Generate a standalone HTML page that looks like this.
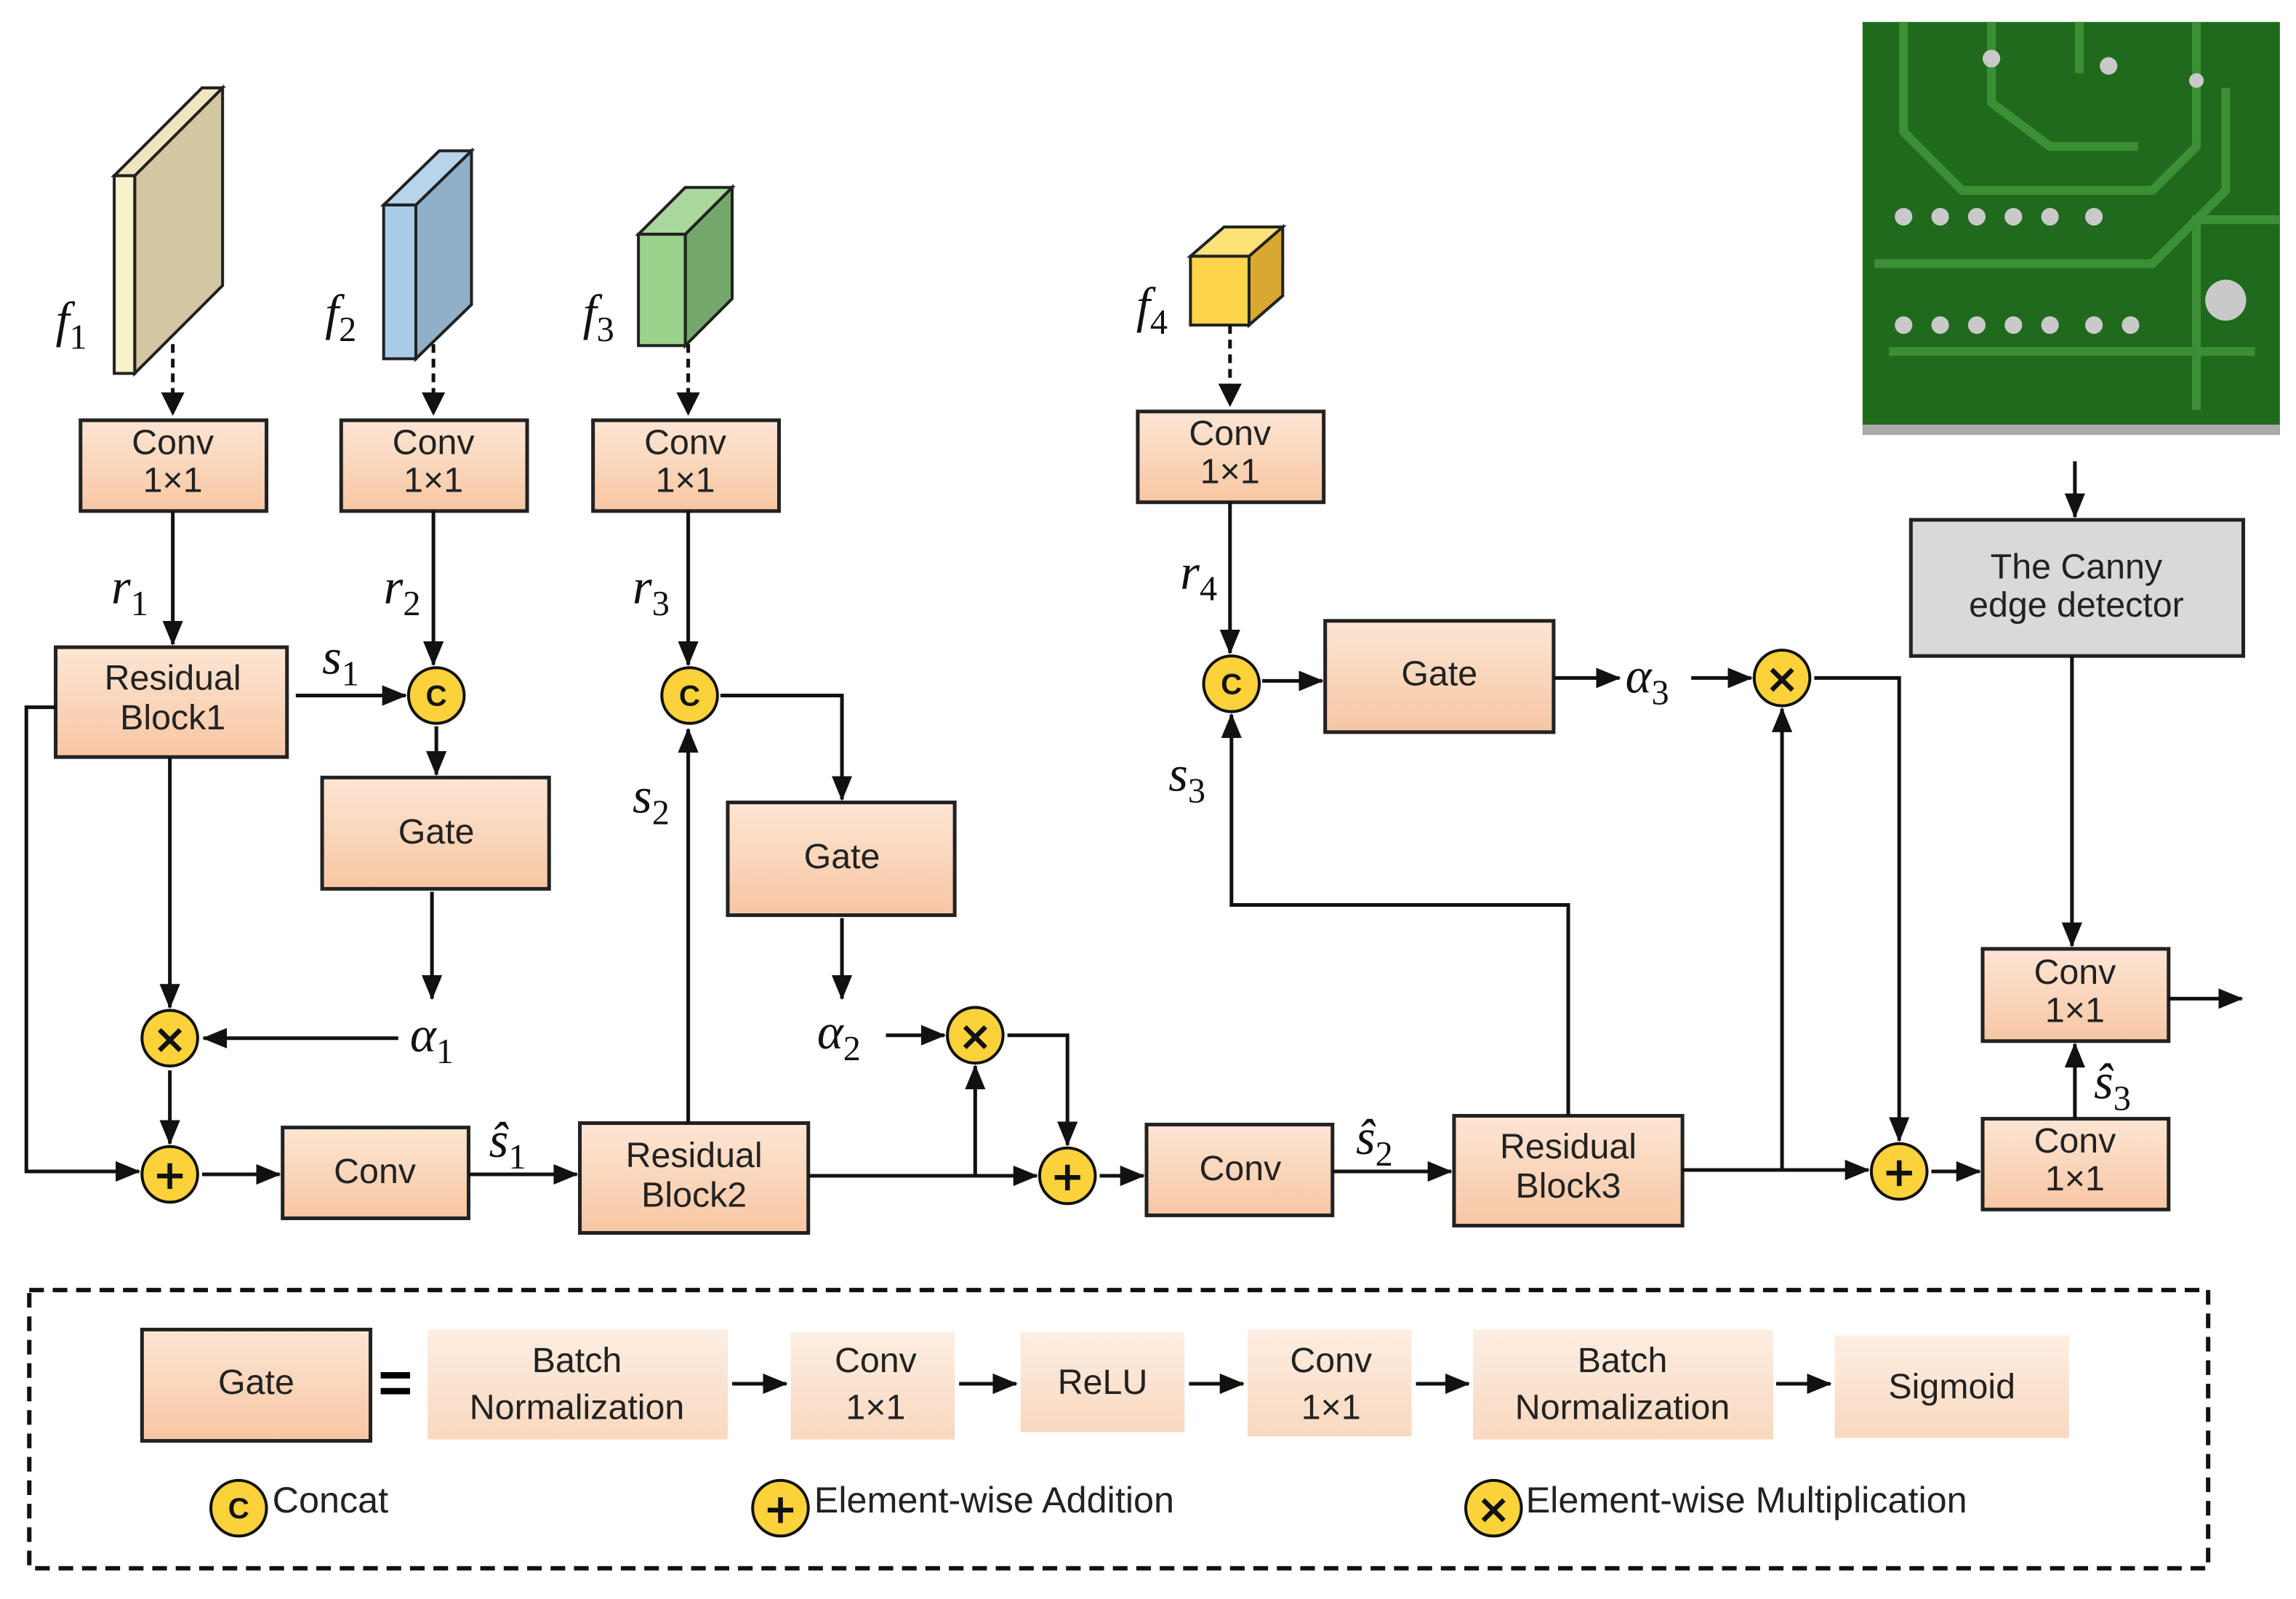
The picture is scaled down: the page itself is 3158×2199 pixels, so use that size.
<!DOCTYPE html>
<html><head><meta charset="utf-8"><style>
html,body{margin:0;padding:0;background:#fff}
svg{display:block}
.bx{fill:url(#pg);stroke:#222;stroke-width:2.5}
.t{font-family:"Liberation Sans",sans-serif;font-size:24px;fill:#222;text-anchor:middle}
.ls{font-family:"Liberation Sans",sans-serif;font-size:25px;fill:#222}
.m{font-family:"Liberation Serif",serif;font-style:italic;font-size:34px;fill:#111}
.ar{stroke:#111;stroke-width:2.5;fill:none;marker-end:url(#ah)}
.cir{fill:#fbd23a;stroke:#111;stroke-width:2}
.ct{font-family:"Liberation Sans",sans-serif;font-weight:bold;font-size:20px;text-anchor:middle;fill:#111}
.cs{font-family:"DejaVu Sans",sans-serif;font-weight:bold;font-size:28px;text-anchor:middle;fill:#111}
.lb{fill:url(#pl)}
</style></head><body>
<svg width="3158" height="2199" viewBox="0 0 1568 1092" preserveAspectRatio="none" xmlns="http://www.w3.org/2000/svg">
<defs>
<linearGradient id="pg" x1="0" y1="0" x2="0" y2="1"><stop offset="0" stop-color="#fde6d4"/><stop offset="1" stop-color="#f7c6a3"/></linearGradient>
<linearGradient id="pl" x1="0" y1="0" x2="0" y2="1"><stop offset="0" stop-color="#fdeee2"/><stop offset="1" stop-color="#f9d8bf"/></linearGradient>
<marker id="ah" markerWidth="18" markerHeight="16" refX="16" refY="7" orient="auto" markerUnits="userSpaceOnUse"><path d="M0,0 L17,7 L0,14 z" fill="#111"/></marker>
</defs>
<!-- slabs -->
<polygon points="92,120 152,60 152,195 92,255" fill="#d3c6a2" stroke="#222" stroke-width="2"/>
<polygon points="78,120 138,60 152,60 92,120" fill="#efe6bf" stroke="#222" stroke-width="2"/>
<rect x="78" y="120" width="14" height="135" fill="#f8f1cc" stroke="#222" stroke-width="2"/>
<polygon points="284,140 322,103 322,208 284,245" fill="#8fb0c8" stroke="#222" stroke-width="2"/>
<polygon points="262,140 300,103 322,103 284,140" fill="#b8d4ea" stroke="#222" stroke-width="2"/>
<rect x="262" y="140" width="22" height="105" fill="#a9cbe8" stroke="#222" stroke-width="2"/>
<polygon points="468,160 500,128 500,204 468,236" fill="#74a86a" stroke="#222" stroke-width="2"/>
<polygon points="436,160 468,128 500,128 468,160" fill="#a9d89c" stroke="#222" stroke-width="2"/>
<rect x="436" y="160" width="32" height="76" fill="#9ad38c" stroke="#222" stroke-width="2"/>
<polygon points="853,175 876,155 876,202 853,222" fill="#d9a830" stroke="#222" stroke-width="2"/>
<polygon points="813,175 836,155 876,155 853,175" fill="#fde27a" stroke="#222" stroke-width="2"/>
<rect x="813" y="175" width="40" height="47" fill="#fcd54a" stroke="#222" stroke-width="2"/>
<text class="m" x="38" y="230">f<tspan font-size="24" font-style="normal" dy="8">1</tspan></text>
<text class="m" x="222" y="225">f<tspan font-size="24" font-style="normal" dy="8">2</tspan></text>
<text class="m" x="398" y="225">f<tspan font-size="24" font-style="normal" dy="8">3</tspan></text>
<text class="m" x="776" y="220">f<tspan font-size="24" font-style="normal" dy="8">4</tspan></text>
<g stroke="#111" stroke-width="2.5" stroke-dasharray="6,4" fill="none">
<line x1="118" y1="235" x2="118" y2="270"/><line x1="296" y1="235" x2="296" y2="270"/><line x1="470" y1="235" x2="470" y2="270"/><line x1="840" y1="222" x2="840" y2="264"/></g>
<g fill="#111"><path d="M110,268 L126,268 L118,284z"/><path d="M288,268 L304,268 L296,284z"/><path d="M462,268 L478,268 L470,284z"/><path d="M832,262 L848,262 L840,278z"/></g>
<!-- PCB -->
<rect x="1272" y="15" width="285" height="282" fill="#1f6a1c"/>
<g stroke="#3b8f34" stroke-width="6" fill="none">
<path d="M1300,15 V90 L1340,130 H1470 L1500,100 V15"/><path d="M1280,180 H1470 L1520,130 V60"/><path d="M1290,240 H1540"/><path d="M1360,15 V70 L1400,100 H1460"/><path d="M1420,15 V50"/><path d="M1557,150 H1500 V280"/></g>
<g fill="#c9c9c9"><circle cx="1300" cy="148" r="6"/><circle cx="1325" cy="148" r="6"/><circle cx="1350" cy="148" r="6"/><circle cx="1375" cy="148" r="6"/><circle cx="1400" cy="148" r="6"/><circle cx="1430" cy="148" r="6"/><circle cx="1300" cy="222" r="6"/><circle cx="1325" cy="222" r="6"/><circle cx="1350" cy="222" r="6"/><circle cx="1375" cy="222" r="6"/><circle cx="1400" cy="222" r="6"/><circle cx="1430" cy="222" r="6"/><circle cx="1455" cy="222" r="6"/><circle cx="1520" cy="205" r="14"/><circle cx="1360" cy="40" r="6"/><circle cx="1440" cy="45" r="6"/><circle cx="1500" cy="55" r="5"/></g>
<rect x="1272" y="290" width="285" height="7" fill="#aaa"/>
<!-- boxes -->
<rect class="bx" x="55" y="287" width="127" height="62"/><text class="t" x="118" y="310">Conv</text><text class="t" x="118" y="336">1×1</text>
<rect class="bx" x="233" y="287" width="127" height="62"/><text class="t" x="296" y="310">Conv</text><text class="t" x="296" y="336">1×1</text>
<rect class="bx" x="405" y="287" width="127" height="62"/><text class="t" x="468" y="310">Conv</text><text class="t" x="468" y="336">1×1</text>
<rect class="bx" x="777" y="281" width="127" height="62"/><text class="t" x="840" y="304">Conv</text><text class="t" x="840" y="330">1×1</text>
<rect class="bx" x="38" y="442" width="158" height="75"/><text class="t" x="118" y="471">Residual</text><text class="t" x="118" y="498">Block1</text>
<rect class="bx" x="220" y="531" width="155" height="76"/><text class="t" x="298" y="576">Gate</text>
<rect class="bx" x="497" y="548" width="155" height="77"/><text class="t" x="575" y="593">Gate</text>
<rect class="bx" x="905" y="424" width="156" height="76"/><text class="t" x="983" y="468">Gate</text>
<rect class="bx" x="193" y="770" width="127" height="62"/><text class="t" x="256" y="808">Conv</text>
<rect class="bx" x="396" y="767" width="156" height="75"/><text class="t" x="474" y="797">Residual</text><text class="t" x="474" y="824">Block2</text>
<rect class="bx" x="783" y="768" width="127" height="62"/><text class="t" x="847" y="806">Conv</text>
<rect class="bx" x="993" y="762" width="156" height="75"/><text class="t" x="1071" y="791">Residual</text><text class="t" x="1071" y="818">Block3</text>
<rect class="bx" x="1354" y="764" width="127" height="62"/><text class="t" x="1417" y="787">Conv</text><text class="t" x="1417" y="813">1×1</text>
<rect class="bx" x="1354" y="648" width="127" height="63"/><text class="t" x="1417" y="672">Conv</text><text class="t" x="1417" y="698">1×1</text>
<rect x="1305" y="355" width="227" height="93" fill="#d9d9d9" stroke="#222" stroke-width="2.5"/><text class="t" x="1418" y="395">The Canny</text><text class="t" x="1418" y="421">edge detector</text>
<!-- connectors -->
<line class="ar" x1="118" y1="349" x2="118" y2="440"/>
<line class="ar" x1="296" y1="349" x2="296" y2="454"/>
<line class="ar" x1="470" y1="349" x2="470" y2="454"/>
<line class="ar" x1="840" y1="343" x2="840" y2="446"/>
<line class="ar" x1="202" y1="475" x2="277" y2="475"/>
<line class="ar" x1="298" y1="496" x2="298" y2="529"/>
<line class="ar" x1="295" y1="609" x2="295" y2="682"/>
<line class="ar" x1="272" y1="709" x2="139" y2="709"/>
<line class="ar" x1="116" y1="517" x2="116" y2="688"/>
<line class="ar" x1="116" y1="731" x2="116" y2="781"/>
<polyline class="ar" points="38,483 18,483 18,800 95,800"/>
<line class="ar" x1="138" y1="802" x2="191" y2="802"/>
<line class="ar" x1="320" y1="802" x2="394" y2="802"/>
<line class="ar" x1="470" y1="767" x2="470" y2="498"/>
<polyline class="ar" points="492,475 575,475 575,546"/>
<line class="ar" x1="575" y1="627" x2="575" y2="682"/>
<line class="ar" x1="605" y1="707" x2="645" y2="707"/>
<line class="ar" x1="552" y1="803" x2="708" y2="803"/>
<line class="ar" x1="666" y1="803" x2="666" y2="728"/>
<polyline class="ar" points="688,707 729,707 729,782"/>
<line class="ar" x1="751" y1="803" x2="781" y2="803"/>
<line class="ar" x1="910" y1="800" x2="991" y2="800"/>
<polyline class="ar" points="1071,762 1071,618 841,618 841,488"/>
<line class="ar" x1="862" y1="465" x2="903" y2="465"/>
<line class="ar" x1="1061" y1="463" x2="1106" y2="463"/>
<line class="ar" x1="1155" y1="463" x2="1196" y2="463"/>
<line class="ar" x1="1149" y1="799" x2="1276" y2="799"/>
<line class="ar" x1="1217" y1="799" x2="1217" y2="484"/>
<polyline class="ar" points="1239,463 1297,463 1297,779"/>
<line class="ar" x1="1319" y1="800" x2="1352" y2="800"/>
<line class="ar" x1="1417" y1="764" x2="1417" y2="713"/>
<line class="ar" x1="1481" y1="682" x2="1531" y2="682"/>
<line class="ar" x1="1415" y1="448" x2="1415" y2="646"/>
<line class="ar" x1="1417" y1="315" x2="1417" y2="353"/>
<!-- circles -->
<g><circle class="cir" cx="298" cy="475" r="19"/><text class="ct" x="298" y="482">C</text>
<circle class="cir" cx="471" cy="475" r="19"/><text class="ct" x="471" y="482">C</text>
<circle class="cir" cx="841" cy="467" r="19"/><text class="ct" x="841" y="474">C</text>
<circle class="cir" cx="116" cy="709" r="19"/><text class="cs" x="116" y="719">×</text>
<circle class="cir" cx="666" cy="707" r="19"/><text class="cs" x="666" y="717">×</text>
<circle class="cir" cx="1217" cy="463" r="19"/><text class="cs" x="1217" y="473">×</text>
<circle class="cir" cx="116" cy="802" r="19"/><text class="cs" x="116" y="812">+</text>
<circle class="cir" cx="729" cy="803" r="19"/><text class="cs" x="729" y="813">+</text>
<circle class="cir" cx="1297" cy="800" r="19"/><text class="cs" x="1297" y="810">+</text></g>
<!-- labels -->
<text class="m" x="76" y="412">r<tspan font-size="24" font-style="normal" dy="8">1</tspan></text>
<text class="m" x="262" y="412">r<tspan font-size="24" font-style="normal" dy="8">2</tspan></text>
<text class="m" x="432" y="412">r<tspan font-size="24" font-style="normal" dy="8">3</tspan></text>
<text class="m" x="806" y="402">r<tspan font-size="24" font-style="normal" dy="8">4</tspan></text>
<text class="m" x="220" y="460">s<tspan font-size="24" font-style="normal" dy="8">1</tspan></text>
<text class="m" x="432" y="555">s<tspan font-size="24" font-style="normal" dy="8">2</tspan></text>
<text class="m" x="798" y="540">s<tspan font-size="24" font-style="normal" dy="8">3</tspan></text>
<text class="m" x="280" y="718">α<tspan font-size="24" font-style="normal" dy="8">1</tspan></text>
<text class="m" x="558" y="716">α<tspan font-size="24" font-style="normal" dy="8">2</tspan></text>
<text class="m" x="1110" y="473">α<tspan font-size="24" font-style="normal" dy="8">3</tspan></text>
<text class="m" x="334" y="790">ŝ<tspan font-size="24" font-style="normal" dy="8">1</tspan></text>
<text class="m" x="926" y="788">ŝ<tspan font-size="24" font-style="normal" dy="8">2</tspan></text>
<text class="m" x="1430" y="750">ŝ<tspan font-size="24" font-style="normal" dy="8">3</tspan></text>
<!-- legend -->
<rect x="20" y="881" width="1488" height="190" fill="none" stroke="#111" stroke-width="3" stroke-dasharray="10,6"/>
<rect class="bx" x="97" y="908" width="156" height="76"/><text class="t" x="175" y="952">Gate</text>
<text x="270" y="958" font-family="Liberation Sans" font-size="40" font-weight="bold" text-anchor="middle">=</text>
<rect class="lb" x="292" y="908" width="205" height="75"/><text class="t" x="394" y="937">Batch</text><text class="t" x="394" y="969">Normalization</text>
<rect class="lb" x="540" y="910" width="112" height="73"/><text class="t" x="598" y="937">Conv</text><text class="t" x="598" y="969">1×1</text>
<rect class="lb" x="697" y="910" width="112" height="68"/><text class="t" x="753" y="952">ReLU</text>
<rect class="lb" x="852" y="908" width="112" height="73"/><text class="t" x="909" y="937">Conv</text><text class="t" x="909" y="969">1×1</text>
<rect class="lb" x="1006" y="908" width="205" height="75"/><text class="t" x="1108" y="937">Batch</text><text class="t" x="1108" y="969">Normalization</text>
<rect class="lb" x="1253" y="912" width="160" height="70"/><text class="t" x="1333" y="955">Sigmoid</text>
<line class="ar" x1="500" y1="945" x2="537" y2="945"/>
<line class="ar" x1="655" y1="945" x2="694" y2="945"/>
<line class="ar" x1="812" y1="945" x2="849" y2="945"/>
<line class="ar" x1="967" y1="945" x2="1003" y2="945"/>
<line class="ar" x1="1213" y1="945" x2="1250" y2="945"/>
<circle class="cir" cx="163" cy="1030" r="19"/><text class="ct" x="163" y="1037">C</text>
<text class="ls" x="186" y="1033">Concat</text>
<circle class="cir" cx="533" cy="1030" r="19"/><text class="cs" x="533" y="1040">+</text>
<text class="ls" x="556" y="1033">Element-wise Addition</text>
<circle class="cir" cx="1020" cy="1030" r="19"/><text class="cs" x="1020" y="1040">×</text>
<text class="ls" x="1042" y="1033">Element-wise Multiplication</text>
</svg>
</body></html>
